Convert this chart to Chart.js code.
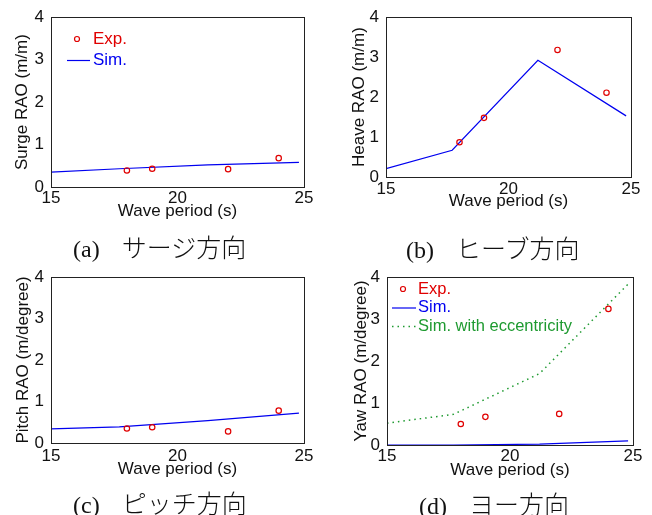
<!DOCTYPE html>
<html>
<head>
<meta charset="utf-8">
<script src="https://cdn.jsdelivr.net/npm/chart.js@4"></script>
<style>
  body { margin: 0; background: #fff; }
  #wrap { position: relative; width: 652px; height: 515px; }
  canvas { position: absolute; }
  .cap { position: absolute; white-space: nowrap; line-height: 30px; height: 30px; color: #111; }
  .cap .lat { font-family: "Liberation Serif", "DejaVu Serif", serif; font-size: 24px; }
  .cap .jp { font-family: "Noto Sans CJK JP", sans-serif; font-size: 25px; margin-left: 22px; font-weight: 300; }
</style>
</head>
<body>
<div id="wrap">
  <canvas id="surge" width="326" height="228" style="left:0;top:0"></canvas>
  <canvas id="heave" width="326" height="228" style="left:326px;top:0"></canvas>
  <canvas id="pitch" width="326" height="230" style="left:0;top:255px"></canvas>
  <canvas id="yaw" width="326" height="230" style="left:326px;top:255px"></canvas>
  <div class="cap" style="left:73px;top:231px"><span class="lat">(a)</span><span class="jp">サージ方向</span></div>
  <div class="cap" style="left:406px;top:232px"><span class="lat">(b)</span><span class="jp">ヒーブ方向</span></div>
  <div class="cap" style="left:73px;top:487px"><span class="lat">(c)</span><span class="jp">ピッチ方向</span></div>
  <div class="cap" style="left:419px;top:488px"><span class="lat">(d)</span><span class="jp">ヨー方向</span></div>
</div>
<script>
// measured wave periods (s)
const expPeriods = [18, 19, 22, 24];
// simulated wave periods (s)
const simPeriods = [15, 17.7, 21.2, 24.8];

const surgeExp = [0.39, 0.43, 0.42, 0.68];
const surgeSim = [0.35, 0.43, 0.52, 0.58];

const heaveExp = [0.87, 1.48, 3.18, 2.11];
const heaveSim = [0.21, 0.67, 2.92, 1.53];

const pitchExp = [0.35, 0.38, 0.28, 0.78];
const pitchSim = [0.34, 0.39, 0.54, 0.72];

const yawExp = [0.50, 0.67, 0.74, 3.24];
const yawSim = [0.0, 0.0, 0.02, 0.1];
const yawSimEcc = [0.52, 0.73, 1.70, 3.83];

const xTicks = [15, 20, 25];
const yTicks = [0, 1, 2, 3, 4];

const RED = '#e00000';
const BLUE = '#0000f0';
const GREEN = '#1e9a30';
const FONT = "'Liberation Sans', Arial, sans-serif";

Chart.defaults.font.family = FONT;
Chart.defaults.font.size = 17;
Chart.defaults.color = '#111';

const pts = (xs, ys) => xs.map((x, i) => ({ x: x, y: ys[i] }));

// box around plot area + legend drawn inside it
const boxAndLegend = {
  id: 'boxAndLegend',
  afterDraw(chart, args, opts) {
    const ctx = chart.ctx;
    const a = chart.chartArea;
    ctx.save();
    ctx.strokeStyle = '#222';
    ctx.lineWidth = 1;
    ctx.strokeRect(Math.round(a.left) + 0.5, Math.round(a.top) + 0.5,
      Math.round(a.right - a.left), Math.round(a.bottom - a.top));
    if (opts.show) {
      ctx.font = opts.size + 'px ' + FONT;
      ctx.textBaseline = 'middle';
      chart.data.datasets.forEach((ds, i) => {
        const y = opts.y0 + i * opts.dy;
        if (!ds.showLine) {
          ctx.strokeStyle = ds.borderColor;
          ctx.lineWidth = 1.2;
          ctx.beginPath();
          ctx.arc(opts.mark, y, 2.5, 0, Math.PI * 2);
          ctx.stroke();
        } else {
          ctx.strokeStyle = ds.borderColor;
          ctx.lineWidth = ds.borderWidth;
          ctx.setLineDash(ds.borderDash || []);
          ctx.beginPath();
          ctx.moveTo(opts.lineFrom, y + 0.5);
          ctx.lineTo(opts.lineTo, y + 0.5);
          ctx.stroke();
          ctx.setLineDash([]);
        }
        ctx.fillStyle = ds.textColor;
        ctx.fillText(ds.label, opts.text, y);
      });
    }
    ctx.restore();
  }
};

function expSet(data) {
  return {
    label: 'Exp.', data: pts(expPeriods, data), showLine: false,
    borderColor: RED, backgroundColor: 'rgba(0,0,0,0)', pointRadius: 2.7,
    pointBorderWidth: 1.2, textColor: RED
  };
}
function simSet(label, data, color, dash) {
  return {
    label: label, data: pts(simPeriods, data), showLine: true,
    borderColor: color, borderWidth: dash ? 1.5 : 1.2, borderDash: dash || [],
    pointRadius: 0, textColor: color
  };
}

function makePanel(id, p) {
  new Chart(document.getElementById(id), {
    type: 'scatter',
    data: { datasets: p.datasets },
    options: {
      responsive: false,
      animation: false,
      devicePixelRatio: 1,
      layout: { padding: { top: p.top, right: p.right, left: 0, bottom: 0 } },
      plugins: {
        legend: { display: false },
        tooltip: { enabled: false },
        boxAndLegend: p.legend || { show: false }
      },
      scales: {
        x: {
          type: 'linear', min: 15, max: 25,
          afterBuildTicks: s => { s.ticks = xTicks.map(v => ({ value: v })); },
          afterFit: s => { s.height = p.xh; },
          grid: { display: false, drawTicks: false },
          border: { display: false },
          ticks: { padding: p.xtp, autoSkip: false, maxRotation: 0 },
          title: { display: true, text: 'Wave period (s)', padding: { top: 0, bottom: p.xtitle } }
        },
        y: {
          type: 'linear', min: 0, max: 4,
          afterBuildTicks: s => { s.ticks = yTicks.map(v => ({ value: v })); },
          afterFit: s => { s.width = p.yw; },
          grid: { display: false, drawTicks: false },
          border: { display: false },
          ticks: { padding: 7 },
          title: { display: true, text: p.ytitle, padding: { top: p.ytp, bottom: 0 } }
        }
      }
    },
    plugins: [boxAndLegend]
  });
}

makePanel('surge', {
  top: 17, right: 22, yw: 51, xh: 41, xtp: 1, xtitle: 6, ytp: 12,
  ytitle: 'Surge RAO (m/m)',
  datasets: [expSet(surgeExp), simSet('Sim.', surgeSim, BLUE)],
  legend: { show: true, size: 17, mark: 77, lineFrom: 67, lineTo: 90, text: 93, y0: 39, dy: 21 }
});

makePanel('heave', {
  top: 17, right: 21, yw: 60, xh: 51, xtp: 2, xtitle: 16, ytp: 23,
  ytitle: 'Heave RAO (m/m)',
  datasets: [expSet(heaveExp), simSet('Sim.', heaveSim, BLUE)]
});

makePanel('pitch', {
  top: 22, right: 22, yw: 51, xh: 42, xtp: 3, xtitle: 5, ytp: 13,
  ytitle: 'Pitch RAO (m/degree)',
  datasets: [expSet(pitchExp), simSet('Sim.', pitchSim, BLUE)]
});

makePanel('yaw', {
  top: 22, right: 19, yw: 61, xh: 40, xtp: 1, xtitle: 4, ytp: 25,
  ytitle: 'Yaw RAO (m/degree)',
  datasets: [expSet(yawExp), simSet('Sim.', yawSim, BLUE), simSet('Sim. with eccentricity', yawSimEcc, GREEN, [1.5, 4])],
  legend: { show: true, size: 16.5, mark: 77, lineFrom: 66, lineTo: 90, text: 92, y0: 34, dy: 18.5 }
});
</script>
</body>
</html>
